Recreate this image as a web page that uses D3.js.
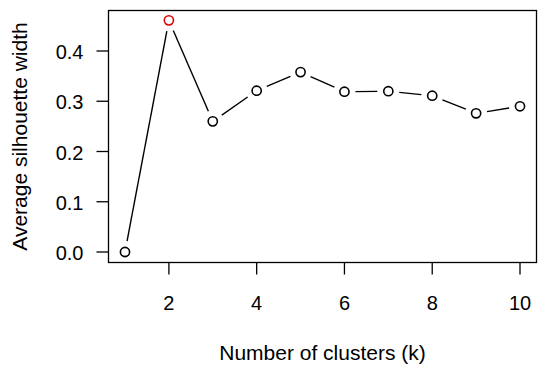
<!DOCTYPE html>
<html>
<head>
<meta charset="utf-8">
<script src="https://cdn.jsdelivr.net/npm/d3@7"></script>
<style>
  body { margin: 0; background: #fff; }
  text { font-family: "Liberation Sans", Arial, sans-serif; fill: #000; }
</style>
</head>
<body>
<div id="chart"></div>
<script>
// data
var clusters = [1, 2, 3, 4, 5, 6, 7, 8, 9, 10];
var silhouette = [0.0, 0.461, 0.260, 0.321, 0.358, 0.319, 0.320, 0.311, 0.276, 0.290];
var xTicks = [2, 4, 6, 8, 10];
var yTicks = [0.0, 0.1, 0.2, 0.3, 0.4];
var bestK = 2;

function init() {
    var w = 550, h = 372;
    var box = { left: 108.5, right: 536.5, top: 10.5, bottom: 262.5 };

    var svg = d3.select("#chart").append("svg")
        .attr("width", w)
        .attr("height", h);

    var x = d3.scaleLinear().domain([1, 10]).range([125, 520]);
    var y = d3.scaleLinear().domain([0, 0.4]).range([252, 51]);

    // box round the plot
    svg.append("rect")
        .attr("x", box.left).attr("y", box.top)
        .attr("width", box.right - box.left)
        .attr("height", box.bottom - box.top)
        .attr("fill", "none").attr("stroke", "#000").attr("stroke-width", 1.3);

    // x axis
    var xg = svg.append("g").attr("transform", "translate(0," + box.bottom + ")");
    xg.selectAll("line").data(xTicks).enter().append("line")
        .attr("x1", d => x(d)).attr("x2", d => x(d))
        .attr("y1", 0).attr("y2", 12)
        .attr("stroke", "#000").attr("stroke-width", 1.3);
    xg.selectAll("text").data(xTicks).enter().append("text")
        .attr("x", d => x(d)).attr("y", 47.5)
        .attr("text-anchor", "middle")
        .style("font-size", "20px")
        .text(d => d);

    // y axis
    var yg = svg.append("g").attr("transform", "translate(" + box.left + ",0)");
    yg.selectAll("line").data(yTicks).enter().append("line")
        .attr("x1", -12).attr("x2", 0)
        .attr("y1", d => y(d)).attr("y2", d => y(d))
        .attr("stroke", "#000").attr("stroke-width", 1.3);
    yg.selectAll("text").data(yTicks).enter().append("text")
        .attr("x", -25).attr("y", d => y(d) + 8)
        .attr("text-anchor", "end")
        .style("font-size", "20px")
        .text(d => d.toFixed(1));

    // axis titles
    svg.append("text")
        .attr("x", (box.left + box.right) / 2).attr("y", 360)
        .attr("text-anchor", "middle")
        .style("font-size", "21px")
        .text("Number of clusters (k)");
    svg.append("text")
        .attr("transform", "translate(27," + (box.top + box.bottom) / 2 + ") rotate(-90)")
        .attr("text-anchor", "middle")
        .style("font-size", "21px")
        .text("Average silhouette width");

    // line segments with gaps round the points (type = "b")
    var pts = clusters.map((k, i) => [x(k), y(silhouette[i])]);
    var gap = 11;
    var segs = d3.pairs(pts).filter(p => {
        var dx = p[1][0] - p[0][0], dy = p[1][1] - p[0][1];
        return Math.sqrt(dx * dx + dy * dy) > 2 * gap;
    });
    svg.selectAll(".seg").data(segs).enter().append("line")
        .attr("class", "seg")
        .each(function (p) {
            var dx = p[1][0] - p[0][0], dy = p[1][1] - p[0][1];
            var len = Math.sqrt(dx * dx + dy * dy);
            var ux = dx / len, uy = dy / len;
            d3.select(this)
                .attr("x1", p[0][0] + ux * gap).attr("y1", p[0][1] + uy * gap)
                .attr("x2", p[1][0] - ux * gap).attr("y2", p[1][1] - uy * gap);
        })
        .attr("stroke", "#000").attr("stroke-width", 1.4);

    // points
    svg.selectAll("circle").data(clusters).enter().append("circle")
        .attr("cx", d => x(d))
        .attr("cy", (d, i) => y(silhouette[i]))
        .attr("r", 4.6)
        .attr("fill", "none")
        .attr("stroke", d => d === bestK ? "#e00000" : "#000")
        .attr("stroke-width", 1.6);
}

window.onload = init;
</script>
</body>
</html>
